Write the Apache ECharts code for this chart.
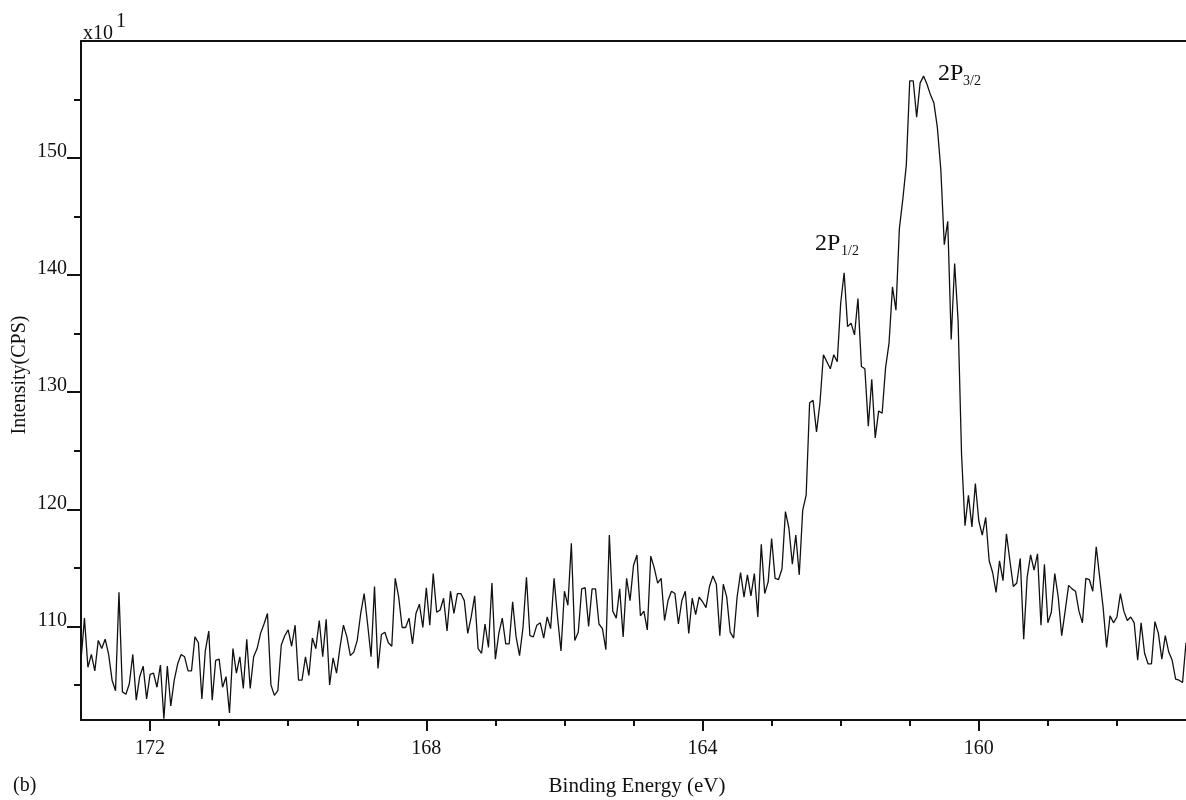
<!DOCTYPE html>
<html>
<head>
<meta charset="utf-8">
<script src="https://cdn.jsdelivr.net/npm/echarts@6/dist/echarts.min.js"></script>
<style>
  html, body { margin: 0; padding: 0; background: #fff; }
  #chart { width: 1186px; height: 800px; }
</style>
</head>
<body>
<div id="chart"></div>
<script>
// S 2p XPS spectrum, binding energy scanned from 173.00 eV down to 157.00 eV in 0.05 eV steps
const energyStart = 173.0;
const energyStep = 0.05;

// intensity (x10 CPS), 173.00 - 168.55 eV
const countsA = [
  107.1,110.7,106.5,107.6,106.2,108.8,108.1,108.9,107.6,105.4,
  104.5,112.9,104.4,104.2,105.1,107.6,103.7,105.7,106.6,103.8,
  105.9,106.0,104.8,106.7,102.1,106.6,103.2,105.4,106.8,107.6,
  107.4,106.2,106.2,109.1,108.6,103.8,107.9,109.6,103.7,107.1,
  107.2,104.8,105.7,102.6,108.1,106.0,107.4,104.7,108.9,104.7,
  107.4,108.1,109.4,110.2,111.1,105.0,104.1,104.5,108.4,109.2,
  109.7,108.3,110.1,105.4,105.4,107.4,105.8,109.0,108.1,110.5,
  107.4,110.6,105.0,107.3,106.0,108.2,110.1,109.1,107.5,107.8,
  108.8,111.1,112.8,110.2,107.4,113.4,106.4,109.3,109.5,108.6
];
// 168.50 - 164.05 eV
const countsB = [
  108.3,114.1,112.5,109.9,109.9,110.7,108.5,111.1,111.9,109.9,
  113.3,110.1,114.5,111.2,111.4,112.4,109.6,113.0,111.1,112.8,
  112.8,112.2,109.4,110.8,112.6,108.1,107.7,110.2,108.2,113.7,
  107.2,109.4,110.7,108.5,108.5,112.1,109.1,107.5,109.9,114.2,
  109.2,109.1,110.1,110.3,109.0,110.8,109.8,114.1,110.8,107.9,
  113.0,111.8,117.1,108.8,109.5,113.2,113.3,110.0,113.2,113.2,
  110.2,109.8,108.0,117.8,111.3,110.7,113.2,109.1,114.1,112.2,
  115.2,116.1,110.9,111.3,109.7,116.0,115.0,113.7,114.1,110.5,
  112.2,113.0,112.8,110.2,112.2,113.0,109.4,112.4,111.0,112.5
];
// 164.00 - 159.95 eV (2p1/2 and 2p3/2 region)
const countsC = [
  112.1,111.6,113.4,114.3,113.6,109.2,113.6,112.5,109.5,109.0,
  112.5,114.6,112.5,114.4,112.6,114.5,110.8,117.0,112.8,113.8,
  117.5,114.1,114.0,114.9,119.8,118.4,115.3,117.8,114.4,119.9,
  121.2,129.1,129.3,126.6,129.1,133.2,132.6,132.0,133.2,132.6,
  137.6,140.2,135.6,135.9,134.9,138.0,132.2,132.0,127.1,131.1,
  126.1,128.4,128.2,132.1,134.2,139.0,137.0,144.0,146.5,149.4,
  156.6,156.6,153.5,156.4,157.0,156.3,155.4,154.7,152.6,149.0,
  142.6,144.6,134.5,141.0,136.1,124.7,118.6,121.2,118.5,122.2,
  119.0,117.8
];
// 159.90 - 157.00 eV
const countsD = [
  119.3,115.6,114.6,112.9,115.6,113.9,117.9,115.6,113.4,113.7,
  115.8,108.9,114.2,116.1,114.8,116.2,110.1,115.3,110.3,111.2,
  114.5,112.5,109.2,111.3,113.5,113.2,113.0,111.3,110.3,114.1,
  114.0,113.0,116.8,114.2,111.6,108.2,110.9,110.3,110.8,112.8,
  111.3,110.5,110.8,110.3,107.1,110.3,107.7,106.8,106.8,110.4,
  109.4,107.2,109.2,107.8,107.1,105.5,105.4,105.2,108.6
];

// axis ticks and labels
const xLabelValues = [160, 164, 168, 172];
const xTickValues = [158, 159, 160, 161, 162, 163, 164, 165, 166, 167, 168, 169, 170, 171, 172];
const yLabelValues = [110, 120, 130, 140, 150];
const yMinorTickValues = [105, 115, 125, 135, 145, 155];

const counts = countsA.concat(countsB, countsC, countsD);
const spectrum = counts.map((v, i) => [+(energyStart - i * energyStep).toFixed(2), v]);

const FONT = '"Liberation Serif", "DejaVu Serif", serif';
const INK = '#111';

const chart = echarts.init(document.getElementById('chart'), null, { renderer: 'canvas' });

const xBase = { type: 'value', min: 157, max: 173, inverse: true, gridIndex: 0, splitLine: { show: false } };
const yBase = { type: 'value', min: 102, max: 160, gridIndex: 0, splitLine: { show: false } };

chart.setOption({
  animation: false,
  backgroundColor: '#fff',
  textStyle: { fontFamily: FONT, color: INK },
  grid: { left: 81, right: 0, top: 41, bottom: 80, containLabel: false, outerBoundsMode: 'none' },
  xAxis: [
    Object.assign({}, xBase, {
      position: 'bottom',
      axisLine: { show: true, lineStyle: { color: INK, width: 2 } },
      axisTick: { show: true, inside: false, length: 6, customValues: xTickValues, lineStyle: { color: INK, width: 2 } },
      axisLabel: { show: true, customValues: xLabelValues, margin: 19, fontSize: 20, fontFamily: FONT, color: INK }
    }),
    Object.assign({}, xBase, {
      position: 'bottom',
      axisLine: { show: false },
      axisTick: { show: true, inside: false, length: 11, customValues: xLabelValues, lineStyle: { color: INK, width: 2 } },
      axisLabel: { show: false }
    }),
    Object.assign({}, xBase, {
      position: 'top',
      axisLine: { show: true, lineStyle: { color: INK, width: 2 } },
      axisTick: { show: false },
      axisLabel: { show: false }
    })
  ],
  yAxis: [
    Object.assign({}, yBase, {
      position: 'left',
      axisLine: { show: true, lineStyle: { color: INK, width: 2 } },
      axisTick: { show: true, inside: false, length: 7, customValues: yMinorTickValues, lineStyle: { color: INK, width: 2 } },
      axisLabel: { show: false }
    }),
    Object.assign({}, yBase, {
      position: 'left',
      axisLine: { show: false },
      axisTick: { show: true, inside: false, length: 14, customValues: yLabelValues, lineStyle: { color: INK, width: 2 } },
      axisLabel: {
        show: true, customValues: yLabelValues, margin: 14, fontSize: 20, fontFamily: FONT, color: INK,
        verticalAlign: 'bottom', lineHeight: 12
      }
    })
  ],
  series: [{
    type: 'line',
    xAxisIndex: 0,
    yAxisIndex: 0,
    data: spectrum,
    showSymbol: false,
    symbol: 'none',
    smooth: false,
    lineStyle: { color: INK, width: 1.3 },
    emphasis: { disabled: true }
  }],
  graphic: [
    { type: 'text', x: 83, y: 34, style: { text: 'x10', font: '20px ' + FONT, fill: INK, verticalAlign: 'middle' } },
    { type: 'text', x: 116, y: 22, style: { text: '1', font: '20px ' + FONT, fill: INK, verticalAlign: 'middle' } },
    { type: 'text', x: 20, y: 375, rotation: Math.PI / 2,
      style: { text: 'Intensity(CPS)', font: '20px ' + FONT, fill: INK, align: 'center', verticalAlign: 'middle' } },
    { type: 'text', x: 637, y: 786,
      style: { text: 'Binding Energy (eV)', font: '21px ' + FONT, fill: INK, align: 'center', verticalAlign: 'middle' } },
    { type: 'text', x: 13, y: 786,
      style: { text: '(b)', font: '20px ' + FONT, fill: INK, align: 'left', verticalAlign: 'middle' } },
    { type: 'text', x: 815, y: 244,
      style: { text: '2P', font: '24px ' + FONT, fill: INK, align: 'left', verticalAlign: 'middle' } },
    { type: 'text', x: 841, y: 251,
      style: { text: '1/2', font: '14px ' + FONT, fill: INK, align: 'left', verticalAlign: 'middle' } },
    { type: 'text', x: 938, y: 74,
      style: { text: '2P', font: '24px ' + FONT, fill: INK, align: 'left', verticalAlign: 'middle' } },
    { type: 'text', x: 963, y: 81,
      style: { text: '3/2', font: '14px ' + FONT, fill: INK, align: 'left', verticalAlign: 'middle' } }
  ]
});
</script>
</body>
</html>
